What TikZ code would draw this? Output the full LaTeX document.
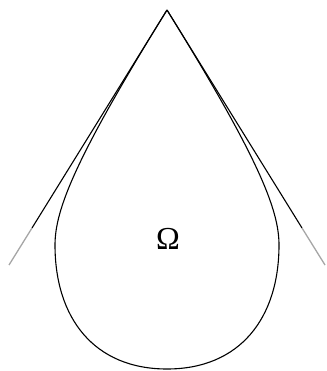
\documentclass[tikz,border=0pt]{standalone}
\usepackage{fontspec}
\setmainfont{Liberation Serif}
\begin{document}
\begin{tikzpicture}[x=1pt,y=-1pt,
  outline/.style={line width=1.1pt,line join=miter,miter limit=40},
  tangentline/.style={line width=1.1pt},
  fadedend/.style={line width=1.3pt,gray!70}]
\useasboundingbox (0,0) rectangle (326,371);
\coordinate (apex) at (167,10);
\coordinate (L) at (55,245);
\coordinate (R) at (279,245);
\coordinate (B) at (167,369);
\coordinate (lm) at (32,228);
\coordinate (le) at (9,265);
\coordinate (rm) at (302,228);
\coordinate (re) at (325,265);
% drop
\draw[outline] (apex) .. controls (74.8,158.8) and (55,210) .. (L)
  .. controls (55,318) and (94,369) .. (B)
  .. controls (240,369) and (279,318) .. (R)
  .. controls (279,210) and (259.2,158.8) .. (apex);
% tangent lines
\draw[tangentline] (apex) -- (lm);
\draw[fadedend] (lm) -- (le);
\draw[tangentline] (apex) -- (rm);
\draw[fadedend] (rm) -- (re);
\node (omega) at (168,239) {\fontsize{32}{32}\selectfont Ω};
\end{tikzpicture}
\end{document}
